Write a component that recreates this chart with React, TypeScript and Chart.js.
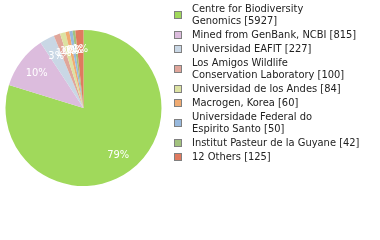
import React, { useEffect, useRef } from "react";
import { Chart, registerables } from "chart.js";

Chart.register(...registerables);

const labels: string[][] = [
  ["Centre for Biodiversity", "Genomics [5927]"],
  ["Mined from GenBank, NCBI [815]"],
  ["Universidad EAFIT [227]"],
  ["Los Amigos Wildlife", "Conservation Laboratory [100]"],
  ["Universidad de los Andes [84]"],
  ["Macrogen, Korea [60]"],
  ["Universidade Federal do", "Espirito Santo [50]"],
  ["Institut Pasteur de la Guyane [42]"],
  ["12 Others [125]"],
];
const values: number[] = [5927, 815, 227, 100, 84, 60, 50, 42, 125];
const colors: string[] = [
  "#a0d95b",
  "#dcbcdd",
  "#c9d7e5",
  "#e0a69b",
  "#dce2a2",
  "#f0ab72",
  "#98b9dd",
  "#a2c27e",
  "#e07a5f",
];

const FONT = "'DejaVu Sans Condensed', 'DejaVu Sans', sans-serif";

const pctPlugin = {
  id: "pctLabels",
  afterDatasetsDraw(chart: any) {
    const ctx = chart.ctx;
    const meta = chart.getDatasetMeta(0);
    const data = chart.data.datasets[0].data as number[];
    const total = data.reduce((a, b) => a + b, 0);
    ctx.save();
    ctx.fillStyle = "#ffffff";
    ctx.font = "11px " + FONT;
    ctx.textAlign = "center";
    ctx.textBaseline = "middle";
    meta.data.forEach((arc: any, i: number) => {
      const { x, y, startAngle, endAngle, outerRadius } = arc.getProps(
        ["x", "y", "startAngle", "endAngle", "outerRadius"],
        true
      );
      const mid = (startAngle + endAngle) / 2;
      const r = outerRadius * 0.75;
      const pct = Math.floor((data[i] / total) * 100);
      ctx.fillText(pct + "%", x + Math.cos(mid) * r, y + Math.sin(mid) * r);
    });
    ctx.restore();
  },
};

export default function App() {
  const ref = useRef<HTMLCanvasElement | null>(null);
  useEffect(() => {
    if (!ref.current) return;
    const chart = new Chart(ref.current, {
      type: "pie",
      data: {
        labels: labels.map((l) => l.join(" ")),
        datasets: [
          {
            data: values,
            backgroundColor: colors,
            borderWidth: 0,
          },
        ],
      },
      options: {
        animation: false,
        responsive: false,
        maintainAspectRatio: false,
        layout: { padding: { left: 5.5, top: 30, right: 218.5, bottom: 54 } },
        plugins: {
          legend: { display: false },
          tooltip: { enabled: false },
        },
      },
      plugins: [pctPlugin],
    });
    return () => chart.destroy();
  }, []);

  return (
    <div
      style={{
        position: "fixed",
        left: 0,
        top: 0,
        width: 380,
        height: 240,
        background: "#ffffff",
      }}
    >
      <canvas
        ref={ref}
        width={380}
        height={240}
        style={{ position: "absolute", left: 0, top: 0, width: 380, height: 240 }}
      />
      <div
        style={{
          position: "absolute",
          left: 174,
          top: 3,
          fontFamily: FONT,
          fontSize: 11,
          lineHeight: "12px",
          color: "#222",
        }}
      >
        {labels.map((lines, i) => (
          <div
            key={i}
            style={{ display: "flex", alignItems: "center", marginBottom: 2 }}
          >
            <div
              style={{
                width: 6,
                height: 6,
                border: "1px solid #808080",
                background: colors[i],
                flex: "none",
              }}
            />
            <div style={{ marginLeft: 10, whiteSpace: "nowrap" }}>
              {lines.map((t, j) => (
                <div key={j}>{t}</div>
              ))}
            </div>
          </div>
        ))}
      </div>
    </div>
  );
}
